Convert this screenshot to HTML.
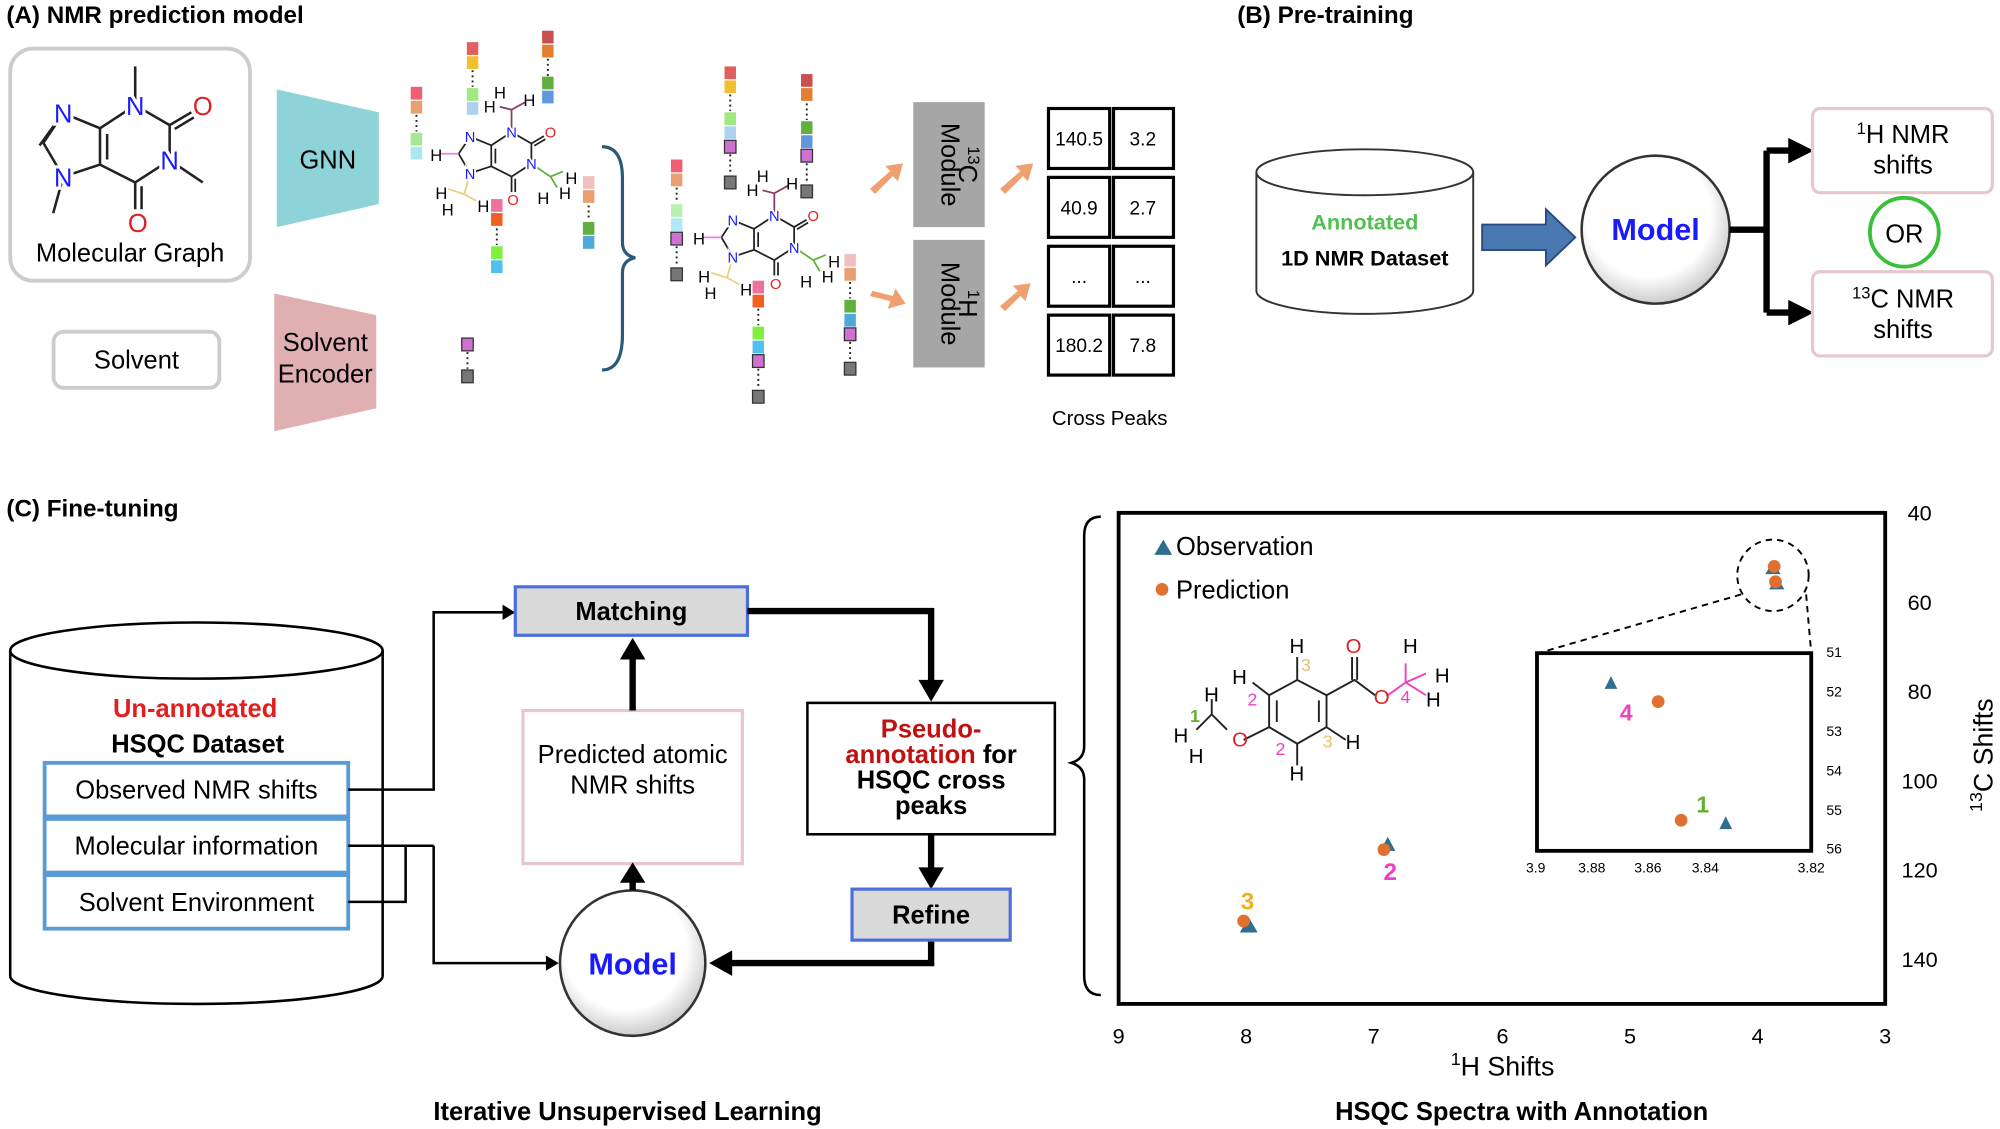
<!DOCTYPE html>
<html><head><meta charset="utf-8"><style>
html,body{margin:0;padding:0;background:#fff;}
svg{display:block;font-family:"Liberation Sans",sans-serif;}
.lb{paint-order:stroke;stroke:#fff;stroke-width:5px;}
</style></head><body>
<svg width="2000" height="1129" viewBox="0 0 1568 885" xmlns="http://www.w3.org/2000/svg">
<defs>
<radialGradient id="cg" cx="0.45" cy="0.4" r="0.6"><stop offset="0.7" stop-color="#fff"/><stop offset="1" stop-color="#ccc"/></radialGradient>
</defs>
<!-- Panel A -->
<text x="5" y="18" font-size="19" font-weight="bold">(A) NMR prediction model</text>
<rect x="8" y="38" width="188" height="182" rx="18" fill="#fff" stroke="#ccc" stroke-width="3"/>
<g>
<g stroke="#222" stroke-width="2" fill="none">
<path d="M49.6,88.7 L34,112 L49.6,138.5 L78.4,129 L78.4,100.5 L49.6,88.7 M78.4,100.5 L106,82.4 L106,52 M106,82.4 L133,98 L150,88 M133,98 L133,125.5 L159,143 M133,125.5 L106,143 L106,164 M106,143 L78.4,129 M49.6,138.5 L41.7,167"/>
<path d="M44,96 L31,114 M84,105 L84,125 M137,101 L152,92 M111,146 L111,164"/>
</g>
<g font-size="20" text-anchor="middle" class="lb">
<text x="49.6" y="96" fill="#1a1aff">N</text><text x="49.6" y="146" fill="#1a1aff">N</text><text x="106" y="90" fill="#1a1aff">N</text><text x="133" y="133" fill="#1a1aff">N</text>
<text x="159" y="90" fill="#e02020">O</text><text x="108" y="182" fill="#e02020">O</text></g>
</g>
<text x="102" y="205" font-size="20" text-anchor="middle">Molecular Graph</text>
<rect x="42" y="260" width="130" height="44" rx="8" fill="#fff" stroke="#ccc" stroke-width="3"/>
<text x="107" y="289" font-size="20" text-anchor="middle">Solvent</text>
<polygon points="217,70 297,88 297,160 217,178" fill="#8ed3d8"/>
<text x="257" y="132" font-size="20" text-anchor="middle">GNN</text>
<polygon points="215,230 295,247 295,320 215,338" fill="#e0afb1"/>
<text x="255" y="275" font-size="20" text-anchor="middle">Solvent</text>
<text x="255" y="300" font-size="20" text-anchor="middle">Encoder</text>
<!-- small molecules -->
<g transform="translate(340,56) scale(0.576)">
<g stroke="#222" stroke-width="2.4" fill="none">
<path d="M49.6,88.7 L34,112 L49.6,138.5 L78.4,129 L78.4,100.5 L49.6,88.7 M78.4,100.5 L106,82.4 M106,82.4 L133,98 L150,88 M133,98 L133,125.5 M133,125.5 L106,143 L106,164 M106,143 L78.4,129"/>
<path d="M84,105 L84,125 M137,101 L152,92 M111,146 L111,164"/>
<path d="M106,82.4 L106,52 L90,48 M106,52 L124,42" stroke="#8a3a6a"/><path d="M34,112 L8,112" stroke="#f080e0"/>
<path d="M49.6,138.5 L41.7,167 L20,160 M41.7,167 L58,176" stroke="#e8d080"/><path d="M133,125.5 L159,143 L176,136 M159,143 L168,158" stroke="#60b040"/>
</g>
<g font-size="20" text-anchor="middle" class="lb">
<text x="49.6" y="96" fill="#1a1aff">N</text><text x="49.6" y="146" fill="#1a1aff">N</text><text x="106" y="90" fill="#1a1aff">N</text><text x="133" y="133" fill="#1a1aff">N</text>
<text x="159" y="90" fill="#e02020">O</text><text x="108" y="182" fill="#e02020">O</text></g>
</g>
<g font-size="13" text-anchor="middle">
<text x="392" y="77">H</text><text x="384" y="88">H</text><text x="415" y="83">H</text><text x="342" y="126">H</text><text x="346" y="156">H</text><text x="351" y="169">H</text><text x="379" y="166">H</text><text x="426" y="160">H</text><text x="443" y="156">H</text><text x="448" y="144">H</text>
</g>
<g transform="translate(546,121.5) scale(0.576)">
<g stroke="#222" stroke-width="2.4" fill="none">
<path d="M49.6,88.7 L34,112 L49.6,138.5 L78.4,129 L78.4,100.5 L49.6,88.7 M78.4,100.5 L106,82.4 M106,82.4 L133,98 L150,88 M133,98 L133,125.5 M133,125.5 L106,143 L106,164 M106,143 L78.4,129"/>
<path d="M84,105 L84,125 M137,101 L152,92 M111,146 L111,164"/>
<path d="M106,82.4 L106,52 L90,48 M106,52 L124,42" stroke="#8a3a6a"/><path d="M34,112 L8,112" stroke="#f080e0"/>
<path d="M49.6,138.5 L41.7,167 L20,160 M41.7,167 L58,176" stroke="#e8d080"/><path d="M133,125.5 L159,143 L176,136 M159,143 L168,158" stroke="#60b040"/>
</g>
<g font-size="20" text-anchor="middle" class="lb">
<text x="49.6" y="96" fill="#1a1aff">N</text><text x="49.6" y="146" fill="#1a1aff">N</text><text x="106" y="90" fill="#1a1aff">N</text><text x="133" y="133" fill="#1a1aff">N</text>
<text x="159" y="90" fill="#e02020">O</text><text x="108" y="182" fill="#e02020">O</text></g>
</g>
<g font-size="13" text-anchor="middle" transform="translate(206,65.5)">
<text x="392" y="77">H</text><text x="384" y="88">H</text><text x="415" y="83">H</text><text x="342" y="126">H</text><text x="346" y="156">H</text><text x="351" y="169">H</text><text x="379" y="166">H</text><text x="426" y="160">H</text><text x="443" y="156">H</text><text x="448" y="144">H</text>
</g>
<g stroke="#222" stroke-width="1.5" stroke-dasharray="1.5,2.5">
<path d="M326.5,90 V103 M370.5,55 V68 M429.5,46 V60 M461.5,161 V173 M389.5,179 V192 M366.5,276 V289 M530.5,147 V159 M530.5,193 V209 M572.5,74 V87 M572.5,121 V137 M632.5,81 V94 M632.5,128 V144 M666.5,221 V234 M666.5,268 V283 M594.5,242 V255 M594.5,289 V305"/>
</g>
<g>
<rect x="322" y="68" width="9" height="10" fill="#f06070"/><rect x="322" y="79" width="9" height="10" fill="#e8a070"/><rect x="322" y="104" width="9" height="10" fill="#a8e890"/><rect x="322" y="115" width="9" height="10" fill="#a8e8f0"/>
<rect x="366" y="33" width="9" height="10" fill="#e06060"/><rect x="366" y="44" width="9" height="10" fill="#f0c030"/><rect x="366" y="69" width="9" height="10" fill="#a0e880"/><rect x="366" y="80" width="9" height="10" fill="#b0d0f0"/>
<rect x="425" y="24" width="9" height="10" fill="#c85050"/><rect x="425" y="35" width="9" height="10" fill="#e08030"/><rect x="425" y="60" width="9" height="10" fill="#60b040"/><rect x="425" y="71" width="9" height="10" fill="#6098e0"/>
<rect x="457" y="138" width="9" height="10" fill="#f0c0c0"/><rect x="457" y="149" width="9" height="10" fill="#e8a070"/><rect x="457" y="174" width="9" height="10" fill="#60b040"/><rect x="457" y="185" width="9" height="10" fill="#50a8d8"/>
<rect x="385" y="156" width="9" height="10" fill="#f070a0"/><rect x="385" y="167" width="9" height="10" fill="#f06020"/><rect x="385" y="193" width="9" height="10" fill="#80f040"/><rect x="385" y="204" width="9" height="10" fill="#50c0f0"/>
<rect x="362" y="265" width="9" height="10" fill="#d070d0" stroke="#333"/><rect x="362" y="290" width="9" height="10" fill="#777" stroke="#333"/>
<rect x="526" y="125" width="9" height="10" fill="#f06070"/><rect x="526" y="136" width="9" height="10" fill="#e8a070"/><rect x="526" y="160" width="9" height="10" fill="#b8f0b0"/><rect x="526" y="171" width="9" height="10" fill="#b0e8f8"/><rect x="526" y="182" width="9" height="10" fill="#d070d0" stroke="#333"/><rect x="526" y="210" width="9" height="10" fill="#777" stroke="#333"/>
<rect x="568" y="52" width="9" height="10" fill="#e06060"/><rect x="568" y="63" width="9" height="10" fill="#f0c030"/><rect x="568" y="88" width="9" height="10" fill="#a0e880"/><rect x="568" y="99" width="9" height="10" fill="#b0d0f0"/><rect x="568" y="110" width="9" height="10" fill="#d070d0" stroke="#333"/><rect x="568" y="138" width="9" height="10" fill="#777" stroke="#333"/>
<rect x="628" y="58" width="9" height="10" fill="#c85050"/><rect x="628" y="69" width="9" height="10" fill="#e08030"/><rect x="628" y="95" width="9" height="10" fill="#60b040"/><rect x="628" y="106" width="9" height="10" fill="#6098e0"/><rect x="628" y="117" width="9" height="10" fill="#d070d0" stroke="#333"/><rect x="628" y="145" width="9" height="10" fill="#777" stroke="#333"/>
<rect x="662" y="199" width="9" height="10" fill="#f0c0c0"/><rect x="662" y="210" width="9" height="10" fill="#e8a070"/><rect x="662" y="235" width="9" height="10" fill="#60b040"/><rect x="662" y="246" width="9" height="10" fill="#50a8d8"/><rect x="662" y="257" width="9" height="10" fill="#d070d0" stroke="#333"/><rect x="662" y="284" width="9" height="10" fill="#777" stroke="#333"/>
<rect x="590" y="220" width="9" height="10" fill="#f070a0"/><rect x="590" y="231" width="9" height="10" fill="#f06020"/><rect x="590" y="256" width="9" height="10" fill="#80f040"/><rect x="590" y="267" width="9" height="10" fill="#50c0f0"/><rect x="590" y="278" width="9" height="10" fill="#d070d0" stroke="#333"/><rect x="590" y="306" width="9" height="10" fill="#777" stroke="#333"/>
</g>
<path d="M472,115 Q488,115 488,140 L488,190 Q488,200 498,202 Q488,204 488,214 L488,262 Q488,290 472,290" fill="none" stroke="#2a5a7a" stroke-width="2.5"/>
<g fill="#f0a070"><polygon points="682,148 698,134 694,130 708,128 704,142 700,138 686,152"/><polygon points="684,228 700,232 702,226 710,238 696,242 698,236 682,232"/>
<polygon points="784,148 800,134 796,130 810,128 806,142 802,138 788,152"/><polygon points="784,240 798,228 794,224 808,222 804,236 800,232 788,244"/></g>
<rect x="716" y="80" width="56" height="98" fill="#a6a6a6"/>
<rect x="716" y="188" width="56" height="100" fill="#a6a6a6"/>
<text transform="translate(738,129) rotate(90)" font-size="20" text-anchor="middle">Module</text>
<text transform="translate(752,129) rotate(90)" font-size="20" text-anchor="middle"><tspan font-size="13" dy="-7">13</tspan><tspan dy="7">C</tspan></text>
<text transform="translate(738,238) rotate(90)" font-size="20" text-anchor="middle">Module</text>
<text transform="translate(752,238) rotate(90)" font-size="20" text-anchor="middle"><tspan font-size="13" dy="-7">1</tspan><tspan dy="7">H</tspan></text>
<g fill="#fff" stroke="#000" stroke-width="2.5">
<rect x="822" y="85" width="48" height="47"/><rect x="873" y="85" width="47" height="47"/>
<rect x="822" y="139" width="48" height="47"/><rect x="873" y="139" width="47" height="47"/>
<rect x="822" y="193" width="48" height="47"/><rect x="873" y="193" width="47" height="47"/>
<rect x="822" y="247" width="48" height="47"/><rect x="873" y="247" width="47" height="47"/>
</g>
<g font-size="15" text-anchor="middle"><text x="846" y="114">140.5</text><text x="896" y="114">3.2</text><text x="846" y="168">40.9</text><text x="896" y="168">2.7</text><text x="846" y="222">...</text><text x="896" y="222">...</text><text x="846" y="276">180.2</text><text x="896" y="276">7.8</text></g>
<text x="870" y="333" font-size="16" text-anchor="middle">Cross Peaks</text>
<!-- Panel B -->
<text x="970" y="18" font-size="19" font-weight="bold">(B) Pre-training</text>
<path d="M985,135 L985,228 A85,18 0 0 0 1155,228 L1155,135" fill="#fff" stroke="#333" stroke-width="1.5"/>
<ellipse cx="1070" cy="135" rx="85" ry="18" fill="#fff" stroke="#333" stroke-width="1.5"/>
<text x="1070" y="180" font-size="17" font-weight="bold" fill="#50c050" text-anchor="middle">Annotated</text>
<text x="1070" y="208" font-size="17" font-weight="bold" text-anchor="middle">1D NMR Dataset</text>
<polygon points="1162,176 1212,176 1212,164 1235,186 1212,208 1212,196 1162,196" fill="#4a78b0" stroke="#2a4a80" stroke-width="1.5"/>
<circle cx="1298" cy="180" r="58" fill="url(#cg)" stroke="#333" stroke-width="2"/>
<text x="1298" y="188" font-size="24" font-weight="bold" fill="#1a1aff" text-anchor="middle">Model</text>
<g stroke="#000" stroke-width="5" fill="none"><path d="M1356,180 L1385,180 M1385,118 L1385,245 M1385,118 L1404,118 M1385,245 L1404,245"/></g>
<polygon points="1402,108 1422,118 1402,128" fill="#000"/><polygon points="1402,235 1422,245 1402,255" fill="#000"/>
<rect x="1421" y="85" width="141" height="66" rx="6" fill="#fff" stroke="#e6c8cc" stroke-width="2.5"/>
<rect x="1421" y="213" width="141" height="66" rx="6" fill="#fff" stroke="#e6c8cc" stroke-width="2.5"/>
<text x="1492" y="112" font-size="20" text-anchor="middle"><tspan font-size="13" dy="-7">1</tspan><tspan dy="7">H NMR</tspan></text>
<text x="1492" y="136" font-size="20" text-anchor="middle">shifts</text>
<text x="1492" y="241" font-size="20" text-anchor="middle"><tspan font-size="13" dy="-7">13</tspan><tspan dy="7">C NMR</tspan></text>
<text x="1492" y="265" font-size="20" text-anchor="middle">shifts</text>
<circle cx="1493" cy="182" r="27" fill="#fff" stroke="#3cc03c" stroke-width="3"/>
<text x="1493" y="190" font-size="20" text-anchor="middle">OR</text>
<!-- Panel C -->
<text x="5" y="405" font-size="19" font-weight="bold">(C) Fine-tuning</text>
<path d="M8,510 L8,765 A146,22 0 0 0 300,765 L300,510" fill="#fff" stroke="#000" stroke-width="2"/>
<ellipse cx="154" cy="510" rx="146" ry="22" fill="#fff" stroke="#000" stroke-width="2"/>
<text x="153" y="562" font-size="20" font-weight="bold" fill="#e02020" text-anchor="middle">Un-annotated</text>
<text x="155" y="590" font-size="20" font-weight="bold" text-anchor="middle">HSQC Dataset</text>
<g fill="#fff" stroke="#5b9bd5" stroke-width="3">
<rect x="35" y="598" width="238" height="42"/><rect x="35" y="642" width="238" height="42"/><rect x="35" y="686" width="238" height="42"/></g>
<g font-size="20" text-anchor="middle"><text x="154" y="626">Observed NMR shifts</text><text x="154" y="670">Molecular information</text><text x="154" y="714">Solvent Environment</text></g>
<g stroke="#000" stroke-width="2" fill="none">
<path d="M273,619 L340,619 L340,480 L396,480"/>
<path d="M273,663 L318,663 M273,707 L318,707 L318,663"/>
<path d="M340,663 L340,755 L430,755"/><path d="M318,663 L340,663"/>
</g>
<polygon points="394,474 404,480 394,486" fill="#000"/><polygon points="428,749 438,755 428,761" fill="#000"/>
<rect x="404" y="460" width="182" height="38" fill="#d9d9d9" stroke="#4a6fdc" stroke-width="2.5"/>
<text x="495" y="486" font-size="20" font-weight="bold" text-anchor="middle">Matching</text>
<rect x="410" y="557" width="172" height="120" fill="#fff" stroke="#e6c8cc" stroke-width="2.5"/>
<text x="496" y="598" font-size="20" text-anchor="middle">Predicted atomic</text>
<text x="496" y="622" font-size="20" text-anchor="middle">NMR shifts</text>
<circle cx="496" cy="755" r="57" fill="url(#cg)" stroke="#333" stroke-width="2"/>
<text x="496" y="764" font-size="24" font-weight="bold" fill="#1a1aff" text-anchor="middle">Model</text>
<g stroke="#000" stroke-width="5" fill="none">
<path d="M496,698 L496,690"/><path d="M496,557 L496,515"/>
<path d="M586,479 L730,479 L730,535"/><path d="M730,654 L730,682"/><path d="M730,737 L730,755 L572,755"/>
</g>
<polygon points="486,692 496,676 506,692" fill="#000"/>
<polygon points="486,517 496,500 506,517" fill="#000"/>
<polygon points="720,533 730,550 740,533" fill="#000"/>
<polygon points="720,680 730,697 740,680" fill="#000"/>
<polygon points="574,745 556,755 574,765" fill="#000"/>
<rect x="633" y="551" width="194" height="103" fill="#fff" stroke="#000" stroke-width="2"/>
<text x="730" y="578" font-size="20" font-weight="bold" fill="#c01010" text-anchor="middle">Pseudo-</text>
<text x="730" y="598" font-size="20" font-weight="bold" text-anchor="middle"><tspan fill="#c01010">annotation</tspan> for</text>
<text x="730" y="618" font-size="20" font-weight="bold" text-anchor="middle">HSQC cross</text>
<text x="730" y="638" font-size="20" font-weight="bold" text-anchor="middle">peaks</text>
<rect x="668" y="697" width="124" height="40" fill="#d9d9d9" stroke="#4a6fdc" stroke-width="2.5"/>
<text x="730" y="724" font-size="20" font-weight="bold" text-anchor="middle">Refine</text>
<text x="492" y="878" font-size="20" font-weight="bold" text-anchor="middle">Iterative Unsupervised Learning</text>
<!-- plot -->
<path d="M863,405 Q850,405 850,420 L850,585 Q850,595 840,598 Q850,601 850,611 L850,765 Q850,780 863,780" fill="none" stroke="#000" stroke-width="2"/>
<rect x="877" y="402" width="601" height="385" fill="#fff" stroke="#000" stroke-width="3"/>
<g font-size="17" text-anchor="middle"><text x="1505" y="408">40</text><text x="1505" y="478">60</text><text x="1505" y="548">80</text><text x="1505" y="618">100</text><text x="1505" y="688">120</text><text x="1505" y="758">140</text>
<text x="877" y="818">9</text><text x="977" y="818">8</text><text x="1077" y="818">7</text><text x="1178" y="818">6</text><text x="1278" y="818">5</text><text x="1378" y="818">4</text><text x="1478" y="818">3</text></g>
<text x="1178" y="843" font-size="21" text-anchor="middle"><tspan font-size="14" dy="-8">1</tspan><tspan dy="8">H Shifts</tspan></text>
<text transform="translate(1562,592) rotate(-90)" font-size="21" text-anchor="middle"><tspan font-size="14" dy="-8">13</tspan><tspan dy="8">C Shifts</tspan></text>
<polygon points="905,435 912,423 919,435" fill="#2e6e8e"/>
<text x="922" y="435" font-size="20">Observation</text>
<circle cx="911" cy="462" r="5" fill="#e07030"/>
<text x="922" y="469" font-size="20">Prediction</text>
<circle cx="1390" cy="451" r="28" fill="none" stroke="#000" stroke-width="1.5" stroke-dasharray="5,4"/>
<polygon points="1384,450 1390,440 1396,450" fill="#2e6e8e"/><circle cx="1391" cy="444" r="5" fill="#e07030"/>
<polygon points="1387,462 1393,452 1399,462" fill="#2e6e8e"/><circle cx="1392" cy="456" r="5" fill="#e07030"/>
<path d="M1365,466 L1206,512 M1416,466 L1420,512" stroke="#000" stroke-width="1.5" stroke-dasharray="5,4"/>
<rect x="1205" y="512" width="215" height="155" fill="#fff" stroke="#000" stroke-width="3"/>
<g font-size="11" text-anchor="middle"><text x="1438" y="515">51</text><text x="1438" y="546">52</text><text x="1438" y="577">53</text><text x="1438" y="608">54</text><text x="1438" y="639">55</text><text x="1438" y="669">56</text>
<text x="1204" y="684">3.9</text><text x="1248" y="684">3.88</text><text x="1292" y="684">3.86</text><text x="1337" y="684">3.84</text><text x="1420" y="684">3.82</text></g>
<polygon points="1258,540 1263,530 1268,540" fill="#2e6e8e"/><circle cx="1300" cy="550" r="5" fill="#e07030"/>
<text x="1275" y="565" font-size="18" font-weight="bold" fill="#f040c0" text-anchor="middle">4</text>
<text x="1335" y="637" font-size="18" font-weight="bold" fill="#60b030" text-anchor="middle">1</text>
<circle cx="1318" cy="643" r="5" fill="#e07030"/><polygon points="1348,650 1353,640 1358,650" fill="#2e6e8e"/>
<polygon points="1082,667 1088,656 1094,667" fill="#2e6e8e"/><circle cx="1085" cy="666" r="5" fill="#e07030"/>
<text x="1090" y="690" font-size="19" font-weight="bold" fill="#f040c0" text-anchor="middle">2</text>
<polygon points="972,731 979,719 986,731" fill="#2e6e8e"/><circle cx="975" cy="722" r="5" fill="#e07030"/>
<text x="978" y="713" font-size="19" font-weight="bold" fill="#f0b020" text-anchor="middle">3</text>
<!-- small molecule -->
<g stroke="#222" stroke-width="1.5" fill="none">
<path d="M995,545 L1017,533 L1040,545 L1040,570 L1017,583 L995,570 Z M1001,549 L1001,566 M1034,549 L1034,566"/>
<path d="M1040,545 L1062,533 L1078,545 M1060,533 L1060,515 M1064,533 L1064,515"/>
<path d="M995,570 L975,580 M962,572 L950,560 M950,560 L938,572 M950,560 L950,548"/>
<path d="M1017,533 L1017,515 M1017,583 L1017,600 M1040,570 L1055,580 M995,545 L982,535"/>
</g>
<path d="M1088,545 L1102,535 M1102,535 L1118,528 M1102,535 L1118,545 M1102,535 L1102,520" stroke="#f040c0" stroke-width="1.5"/>
<g font-size="16"><text x="1011" y="512">H</text><text x="1055" y="512" fill="#e02020">O</text><text x="1077" y="552" fill="#e02020">O</text><text x="1100" y="512">H</text><text x="1125" y="535">H</text><text x="1118" y="554">H</text>
<text x="966" y="585" fill="#e02020">O</text><text x="944" y="550">H</text><text x="920" y="582">H</text><text x="932" y="598">H</text><text x="1055" y="587">H</text><text x="1011" y="612">H</text><text x="966" y="536">H</text></g>
<g font-size="14"><text x="1020" y="526" fill="#e8c070">3</text><text x="978" y="553" fill="#f040c0">2</text><text x="1000" y="592" fill="#f040c0">2</text><text x="1037" y="586" fill="#e8c070">3</text><text x="1098" y="551" fill="#f040c0">4</text><text x="933" y="566" font-weight="bold" fill="#60b030">1</text></g>
<text x="1193" y="878" font-size="20" font-weight="bold" text-anchor="middle">HSQC Spectra with Annotation</text>
</svg>
</body></html>
